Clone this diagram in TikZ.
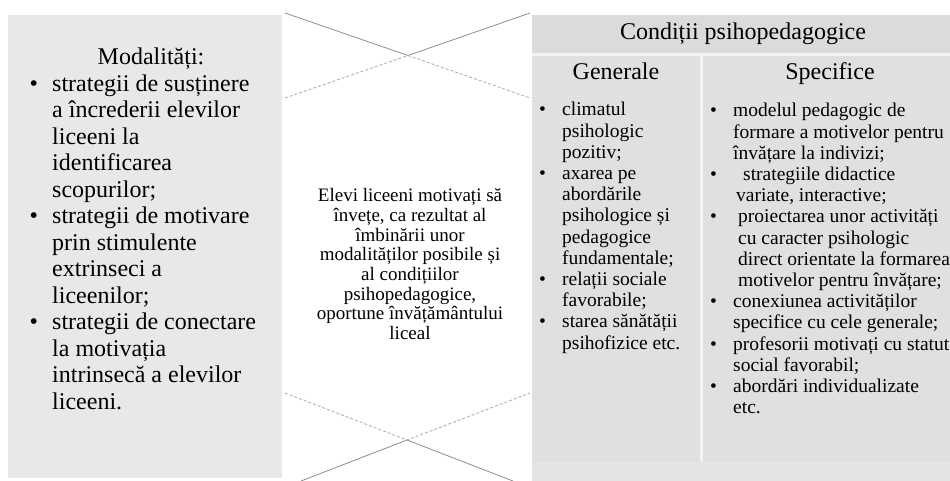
\documentclass[tikz,border=0pt]{standalone}
\usepackage{fontspec}
\setmainfont{Liberation Serif}
\usetikzlibrary{positioning}
\definecolor{leftgray}{HTML}{E8E8E8}
\definecolor{outergray}{HTML}{E4E4E4}
\definecolor{sepgray}{HTML}{F3F3F3}
\definecolor{headgray}{HTML}{DBDBDB}
\definecolor{cellgray}{HTML}{E0E0E0}
\definecolor{solidgray}{HTML}{8E8E8E}
\definecolor{dashgray}{HTML}{ABABAB}
\tikzset{
	bigtext/.style={font=\fontsize{24}{26.5}\selectfont, inner sep=0pt, anchor=base},
	midtext/.style={font=\fontsize{19}{19.6}\selectfont, inner sep=0pt, anchor=base},
	coltext/.style={font=\fontsize{19.5}{21.2}\selectfont, inner sep=0pt, anchor=base west},
	listtext/.style={font=\fontsize{24}{26.5}\selectfont, inner sep=0pt, anchor=base west},
	solidln/.style={draw=solidgray, line width=0.8pt},
	dashln/.style={draw=dashgray, line width=0.8pt, dash pattern=on 3pt off 2pt}
}
\newcommand{\bul}{\textbullet}

\begin{document}
\begin{tikzpicture}[x=1pt,y=-1pt]
	\useasboundingbox (0,0) rectangle (950,481);
	\fill[white] (0,0) rectangle (950,481);
	
	\fill[leftgray] (8,15) rectangle (282,478);
	\fill[outergray] (532,15) rectangle (950,481);
	\fill[sepgray] (532,53) rectangle (950,56);
	\fill[sepgray] (700,56) rectangle (703,462);
	\fill[headgray] (532,15) rectangle (950,53);
	\fill[cellgray] (532,56) rectangle (700,95);
	\fill[cellgray] (703,56) rectangle (950,95);
	\fill[cellgray] (532,97) rectangle (700,462);
	\fill[cellgray] (703,97) rectangle (950,462);
	
	\coordinate (ux) at (408,55.5);
	\draw[solidln] (285,13) -- (ux) -- (530,13);
	\draw[dashln] (285,98) -- (ux) -- (530,98);
	\coordinate (lx) at (407,440);
	\draw[dashln] (285,393) -- (lx) -- (530,393);
	\draw[solidln] (301,481) -- (lx) -- (513,481);
	
	\node[bigtext] (modtitle) at (151,65) {Modalități:};
	\node[listtext] (modlist) at (29.5,91.5) {\begin{tabular}[t]{@{}p{22.5pt}@{}l@{}}
		\bul & strategii de susținere\\
		& a încrederii elevilor\\
		& liceeni la\\
		& identificarea\\
		& scopurilor;\\
		\bul & strategii de motivare\\
		& prin stimulente\\
		& extrinseci a\\
		& liceenilor;\\
		\bul & strategii de conectare\\
		& la motivația\\
		& intrinsecă a elevilor\\
		& liceeni.
	\end{tabular}};
	
	\node[midtext] (elevi) at (410,202) {\begin{tabular}[t]{@{}c@{}}
		Elevi liceeni motivați să\\
		învețe, ca rezultat al\\
		îmbinării unor\\
		modalităților posibile și\\
		al condițiilor\\
		psihopedagogice,\\
		oportune învățământului\\
		liceal
	\end{tabular}};
	
	\node[bigtext] (condtitle) at (743,40) {Condiții psihopedagogice};
	\node[bigtext] (gentitle) at (616,80) {Generale};
	\node[bigtext] (spectitle) at (830,80) {Specifice};
	
	\node[coltext] (genlist) at (539,116) {\begin{tabular}[t]{@{}p{23pt}@{}l@{}}
		\bul & climatul\\
		& psihologic\\
		& pozitiv;\\
		\bul & axarea pe\\
		& abordările\\
		& psihologice și\\
		& pedagogice\\
		& fundamentale;\\
		\bul & relații sociale\\
		& favorabile;\\
		\bul & starea sănătății\\
		& psihofizice etc.
	\end{tabular}};
	
	\node[coltext] (speclist) at (710,117) {\begin{tabular}[t]{@{}p{23pt}@{}l@{}}
		\bul & modelul pedagogic de\\
		& formare a motivelor pentru\\
		& învățare la indivizi;\\
		\bul & \hspace{10pt}strategiile didactice\\
		& \hspace{3pt}variate, interactive;\\
		\bul & \hspace{5pt}proiectarea unor activități\\
		& \hspace{5pt}cu caracter psihologic\\
		& \hspace{5pt}direct orientate la formarea\\
		& \hspace{5pt}motivelor pentru învățare;\\
		\bul & conexiunea activităților\\
		& specifice cu cele generale;\\
		\bul & profesorii motivați cu statut\\
		& social favorabil;\\
		\bul & abordări individualizate\\
		& etc.
	\end{tabular}};
\end{tikzpicture}
\end{document}
